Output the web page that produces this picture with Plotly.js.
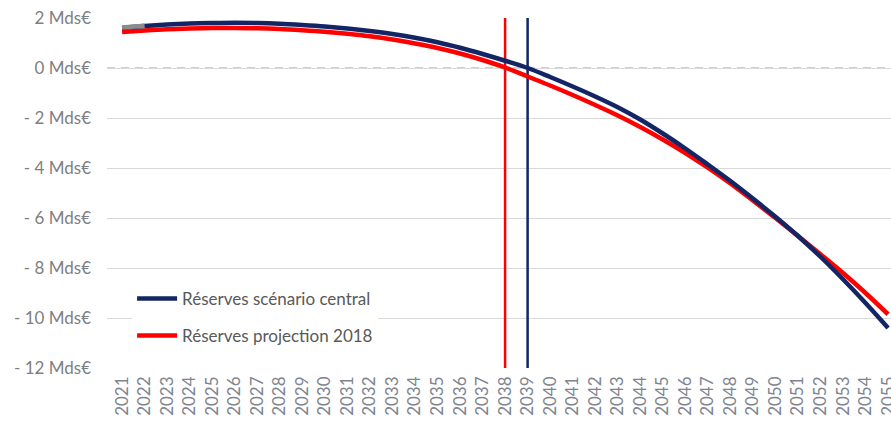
<!DOCTYPE html>
<html>
<head>
<meta charset="utf-8">
<script src="https://cdn.plot.ly/plotly-3.0.1.min.js"></script>
<style>html,body{margin:0;padding:0;overflow:hidden;background:#fff}#chart{width:891px;height:428px}</style>
</head>
<body>
<div id="chart"></div>
<script>
const years = [2021,2022,2023,2024,2025,2026,2027,2028,2029,2030,2031,2032,2033,2034,2035,2036,2037,2038,2039,2040,2041,2042,2043,2044,2045,2046,2047,2048,2049,2050,2051,2052,2053,2054,2055];
const central = [1.60,1.68,1.74,1.78,1.80,1.81,1.80,1.77,1.72,1.66,1.58,1.48,1.36,1.21,1.03,0.81,0.56,0.29,0.00,-0.36,-0.74,-1.14,-1.57,-2.06,-2.62,-3.22,-3.86,-4.52,-5.22,-5.95,-6.72,-7.55,-8.45,-9.40,-10.40];
const projection2018 = [1.44,1.50,1.55,1.58,1.60,1.60,1.59,1.56,1.51,1.45,1.37,1.27,1.14,0.98,0.80,0.58,0.32,0.02,-0.34,-0.70,-1.08,-1.48,-1.90,-2.36,-2.86,-3.40,-3.99,-4.62,-5.30,-6.00,-6.72,-7.45,-8.20,-9.00,-9.85];
const greyYears = [2021,2022];
const greySeries = [1.62,1.69];
const exhaustionCentral = 2039;
const exhaustion2018 = 2038;
const yTickVals = [2,0,-2,-4,-6,-8,-10,-12];
const yTickText = ["2 Mds€","0 Mds€","- 2 Mds€","- 4 Mds€","- 6 Mds€","- 8 Mds€","- 10 Mds€","- 12 Mds€"];
const seriesNames = ["Réserves scénario central","Réserves projection 2018"];

const navy = "#142565";
const red = "#ff0000";
const yMin = -12, yMax = 2;

const traces = [
  {x:[exhaustion2018,exhaustion2018], y:[yMin,yMax], mode:"lines", line:{color:red,width:2.5}, showlegend:false, hoverinfo:"skip"},
  {x:[exhaustionCentral,exhaustionCentral], y:[yMin,yMax], mode:"lines", line:{color:navy,width:2.5}, showlegend:false, hoverinfo:"skip"},
  {x:years, y:projection2018, name:seriesNames[1], mode:"lines", line:{color:red,width:4.5,shape:"spline"}, legendgroup:"b", legendrank:2},
  {x:years, y:central, name:seriesNames[0], mode:"lines", line:{color:navy,width:4.5,shape:"spline"}, legendgroup:"a", legendrank:1},
  {x:greyYears, y:greySeries, mode:"lines", line:{color:"#8c8c8c",width:4.5}, showlegend:false, hoverinfo:"skip"}
];

const font = "Lato, 'Open Sans', sans-serif";
const layout = {
  width:891, height:428,
  margin:{l:107, r:0, t:18, b:60},
  paper_bgcolor:"#fff", plot_bgcolor:"#fff",
  font:{family:font, color:"#7f7f7f", size:17},
  showlegend:true,
  legend:{x:0.032, y:0.249, xanchor:"left", yanchor:"top", bgcolor:"#fff", traceorder:"grouped", tracegroupgap:12,
          itemwidth:40, font:{family:font, size:17, color:"#595959"}},
  xaxis:{range:[2020.33,2055.13], tickvals:years, ticktext:years.map(String), tickangle:-90, showgrid:false, zeroline:false,
         showline:false, ticks:"", ticklabelstandoff:4, ticklabeloverflow:"allow",
         tickfont:{family:font, size:17, color:"#7f8590"}, fixedrange:true},
  yaxis:{range:[yMin,yMax], tickvals:yTickVals, ticktext:yTickText, showgrid:true, gridcolor:"#d9d9d9", gridwidth:1,
         zeroline:false, showline:false, ticks:"", ticklabelstandoff:15, tickfont:{family:font, size:17, color:"#7f7f7f"}, fixedrange:true},
  shapes:[
    {type:"line", xref:"paper", x0:0, x1:1, yref:"y", y0:0, y1:0, layer:"between", line:{color:"#ffffff", width:2}},
    {type:"line", xref:"paper", x0:0, x1:1, yref:"y", y0:0, y1:0, layer:"between", line:{color:"#bfbfbf", width:1.5, dash:"8px,6px"}}
  ]
};
Plotly.newPlot("chart", traces, layout, {displayModeBar:false, staticPlot:true});
</script>
</body>
</html>
